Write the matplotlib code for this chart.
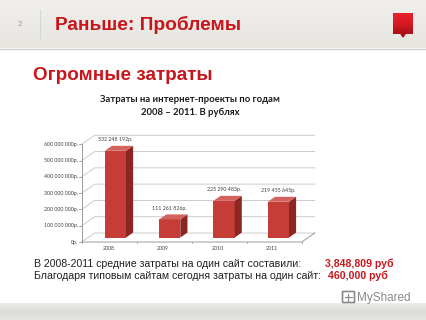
import matplotlib.pyplot as plt
import numpy as np
from matplotlib.patches import Polygon, FancyBboxPatch
from matplotlib.colors import LinearSegmentedColormap

# chart data
years = ['2008', '2009', '2010', '2011']
costs = [532248192, 111261826, 225290483, 219455645]
cost_labels = ['532 248 192р.', '111 261 826р.', '225 290 483р.', '219 455 645р.']
ytick_vals = [0, 100e6, 200e6, 300e6, 400e6, 500e6, 600e6]
ytick_labels = ['0р.', '100 000 000р.', '200 000 000р.', '300 000 000р.',
                '400 000 000р.', '500 000 000р.', '600 000 000р.']

slide_title = 'Раньше: Проблемы'
sub_title = 'Огромные затраты'
chart_title = 'Затраты на интернет-проекты по годам\n2008 – 2011. В рублях'
line1 = 'В 2008-2011 средние затраты на один сайт составили:'
line1_val = '3,848,809 руб'
line2 = 'Благодаря типовым сайтам сегодня затраты на один сайт:'
line2_val = '460,000 руб'

RED = '#c8161d'
W, H = 427, 320
fig = plt.figure(figsize=(W / 100, H / 100), dpi=100)
fig.patch.set_facecolor('white')

# background / slide decoration in pixel coords
bg = fig.add_axes([0, 0, 1, 1])
bg.set_xlim(0, W)
bg.set_ylim(H, 0)
bg.axis('off')

grad = np.linspace(0, 1, 50).reshape(-1, 1)
bg.imshow(grad, extent=[0, W, 48, 0], aspect='auto',
          cmap=LinearSegmentedColormap.from_list('h', ['#f0efeb', '#e6e5e0']), zorder=0)
bg.plot([0, W], [48.5, 48.5], color='#cfcfcc', lw=1)
bg.plot([40, 40], [10, 40], color='#d6d6d2', lw=0.8)
bg.text(20, 25, '2', fontsize=5.5, color='#9a9a9a', ha='center', va='center', family='Liberation Sans')
bg.text(55, 25, slide_title, fontsize=13.8, color=RED, fontweight='bold', ha='left', va='center', family='Liberation Sans')

# red square logo
bg.imshow(grad, extent=[393, 413, 34, 13], aspect='auto',
          cmap=LinearSegmentedColormap.from_list('r', ['#e8222b', '#d81a22', '#a90f17']), zorder=2)
bg.add_patch(Polygon([[401, 34], [405, 34], [403, 37]], closed=True, color='#a90f17', zorder=2))

bg.text(33, 76, sub_title, fontsize=13.6, color=RED, fontweight='bold', ha='left', va='center', family='Liberation Sans')
bg.text(190, 106, chart_title, fontsize=6.8, color='#1a1a1a', fontweight='bold', ha='center', va='center',
        family='Lato', linespacing=1.45)

# bottom text
bg.text(34, 264, line1, fontsize=7.6, color='#202020', ha='left', va='center', family='Liberation Sans')
bg.text(325, 264, line1_val, fontsize=7.6, color=RED, fontweight='bold', ha='left', va='center', family='Liberation Sans')
bg.text(34, 276, line2, fontsize=7.6, color='#202020', ha='left', va='center', family='Liberation Sans')
bg.text(328, 276, line2_val, fontsize=7.6, color=RED, fontweight='bold', ha='left', va='center', family='Liberation Sans')

# bottom band
bg.imshow(grad, extent=[0, W, H, 303], aspect='auto',
          cmap=LinearSegmentedColormap.from_list('b', ['#ececea', '#dcdcd8', '#e4e4e0']), zorder=0)
bg.add_patch(FancyBboxPatch((343, 292), 11, 10, boxstyle='round,pad=0.5', fc='none', ec='#8a8a8a', lw=1.2))
bg.plot([345, 352], [297, 297], color='#8a8a8a', lw=0.8)
bg.plot([348.5, 348.5], [294, 301], color='#8a8a8a', lw=0.8)
bg.text(357, 298, 'MyShared', fontsize=8.5, color='#8a8a8a', ha='left', va='center', family='Liberation Sans')

# chart axes
ax = fig.add_axes([60 / W, (H - 250) / H, 270 / W, 125 / H])
ax.set_xlim(-0.9, 4.07)
ax.set_ylim(-49e6, 718e6)
ax.axis('off')

px_x = 270 / (4.07 + 0.9)
px_y = 125 / (718e6 + 49e6)
DX = 13 / px_x
DY = 9 / px_y
xa, xr = -0.5, 3.55
grid_c = '#c4c4c4'

for v in ytick_vals:
    ax.plot([xa, xa + DX, xr + DX], [v, v + DY, v + DY], color=grid_c, lw=0.6, zorder=1)
    ax.plot([xa - 0.05, xa], [v, v], color='#9a9a9a', lw=0.6, zorder=1)
for v, lbl in zip(ytick_vals, ytick_labels):
    ax.text(xa - 0.07, v, lbl, fontsize=3.8, color='#404040', ha='right', va='center', family='Lato')
ax.plot([xa, xa], [0, ytick_vals[-1]], color='#9a9a9a', lw=0.7, zorder=1)
ax.plot([xa, xr, xr + DX], [0, 0, DY], color='#9a9a9a', lw=0.7, zorder=1)
for k in range(5):
    xt = xa + k * (xr - xa) / 4
    ax.plot([xt, xt], [0, -8e6], color='#9a9a9a', lw=0.6)

bw = 0.39
off_x, off_y = DX * 0.5, DY * 0.5
dd_x, dd_y = DX * 0.55, DY * 0.55
xs = np.arange(len(years))
ax.bar(xs + off_x, costs, width=bw, bottom=off_y, color='#c63d38', zorder=3)
for i, c in enumerate(costs):
    xl = i + off_x - bw / 2
    xrr = i + off_x + bw / 2
    b = off_y
    t = c + off_y
    ax.add_patch(Polygon([[xrr, b], [xrr + dd_x, b + dd_y], [xrr + dd_x, t + dd_y], [xrr, t]],
                         closed=True, fc='#8c2622', ec='none', zorder=3))
    ax.add_patch(Polygon([[xl, t], [xrr, t], [xrr + dd_x, t + dd_y], [xl + dd_x, t + dd_y]],
                         closed=True, fc='#d4625d', ec='none', zorder=3))
    ax.annotate(cost_labels[i], (i + off_x, t), xytext=(0, 8), textcoords='offset points',
                fontsize=3.8, color='#404040', ha='center', va='center', family='Lato')
    ax.annotate(years[i], (i, 0), xytext=(0, -5), textcoords='offset points',
                fontsize=3.8, color='#404040', ha='center', va='center', family='Lato')

fig.savefig('out.png', dpi=100)
